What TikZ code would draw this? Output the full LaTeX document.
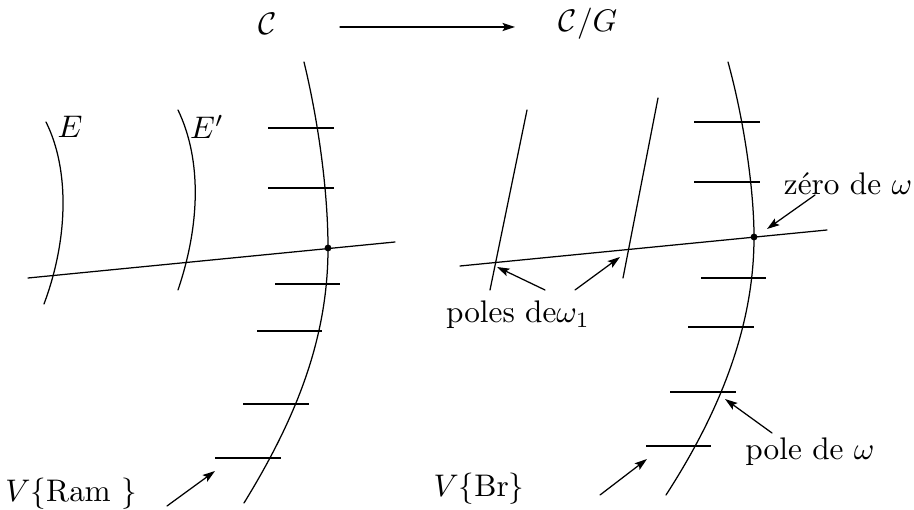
\documentclass[tikz,border=0pt]{standalone}
\usetikzlibrary{arrows.meta}
\begin{document}
\begin{tikzpicture}[x=0.32pt,y=-0.32pt,line cap=round,line join=round,
  curve/.style={line width=0.4pt},
  pole/.style={line width=0.85pt,line cap=butt},
  pointer/.style={-{Stealth[length=4pt,width=2.6pt,inset=0.8pt]},line width=0.4pt},
  lbl/.style={inner sep=0pt}]
\useasboundingbox (0,0) rectangle (914,510);

% top row: the quotient map
\node[lbl] (cov) at (268,24) {$\mathcal{C}$};
\node[lbl] (quot) at (588,24) {$\mathcal{C}/G$};
\coordinate (mapfrom) at (340,27);
\coordinate (mapto) at (515,27);
\draw[pointer] (mapfrom) -- (mapto);

% left panel
\draw[curve] (46,122) .. controls (70,170) and (68,240) .. (44,304);
\draw[curve] (178,110) .. controls (202,160) and (200,225) .. (178,290);
\node[lbl] (E) at (70,127) {$E$};
\node[lbl] (Eprime) at (207,127) {$E'$};
\coordinate (crossL) at (328,248);
\draw[curve] (304,62) .. controls (318,120) and (328,190) .. (crossL)
  .. controls (328,340) and (295,420) .. (244,503);
\draw[curve] (28,278) -- (395,242);
\fill (crossL) circle [radius=1.1pt];
\foreach \ya/\xl/\xr in {128/268/334,188/268/334,284/275/340,331/257/322,404/243/309,458/215/281}
  \draw[pole] (\xl,\ya) -- (\xr,\ya);
\node[lbl] (ram) at (71,494) {$V\{\mathrm{Ram}\ \}$};
\coordinate (ramfrom) at (167,506);
\coordinate (ramto) at (215,471);
\draw[pointer] (ramfrom) -- (ramto);

% right panel
\draw[curve] (527,110) -- (490,290);
\draw[curve] (658,98) -- (623,278);
\coordinate (crossR) at (754,237);
\draw[curve] (728,62) .. controls (744,120) and (754,190) .. (crossR)
  .. controls (754,325) and (721,410) .. (666,495);
\draw[curve] (460,266) -- (827,230);
\fill (crossR) circle [radius=1.1pt];
\foreach \ya/\xl/\xr in {122/694/760,182/694/760,278/701/766,327/688/754,392/670/736,446/646/711}
  \draw[pole] (\xl,\ya) -- (\xr,\ya);

\node[lbl] (poles) at (518,315) {poles de$\omega_1$};
\coordinate (polesA) at (545,290);
\coordinate (polesB) at (575,290);
\coordinate (tipA) at (497,267);
\coordinate (tipB) at (620,257);
\draw[pointer] (polesA) -- (tipA);
\draw[pointer] (polesB) -- (tipB);

\node[lbl] (zero) at (848,184) {z\'ero de $\omega$};
\coordinate (zerofrom) at (815,195);
\coordinate (zeroto) at (767,229);
\draw[pointer] (zerofrom) -- (zeroto);

\node[lbl] (pole) at (810,452) {pole de $\omega$};
\coordinate (polefrom) at (772,433);
\coordinate (poleto) at (725,399);
\draw[pointer] (polefrom) -- (poleto);

\node[lbl] (br) at (479,489) {$V\{\mathrm{Br}\}$};
\coordinate (brfrom) at (600,495);
\coordinate (brto) at (647,459);
\draw[pointer] (brfrom) -- (brto);
\end{tikzpicture}
\end{document}
